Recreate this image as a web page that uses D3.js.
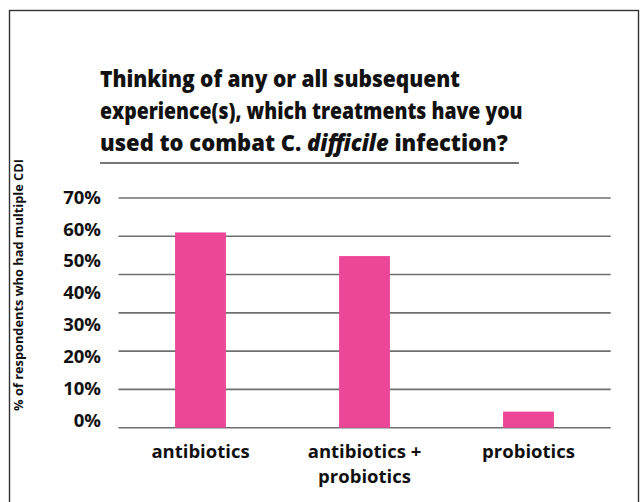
<!doctype html>
<html>

<head>
  <script src="https://cdnjs.cloudflare.com/ajax/libs/d3/7.8.5/d3.min.js"></script>
  <style>
    body { margin: 0; background: #fff; }
    text { font-family: "Open Sans", "Noto Sans", sans-serif; font-weight: bold; fill: #111; }
  </style>
</head>

<body>
  <div id="viz"></div>
  <script>
    // chart values
    var categories = ["antibiotics", "antibiotics + probiotics", "probiotics"];
    var categoryLines = [["antibiotics"], ["antibiotics +", "probiotics"], ["probiotics"]];
    var values = [59.5, 52.3, 4.9];
    var tickValues = [0, 10, 20, 30, 40, 50, 60, 70];
    var gridSteps = [0, 1, 2, 3, 4, 5, 6];
    var titleLines = [
      [{ t: "Thinking of any or all subsequent" }],
      [{ t: "experience(s), which treatments have you" }],
      [{ t: "used to combat C. " }, { t: "difficile", i: true }, { t: " infection?" }]
    ];
    var yTitle = "% of respondents who had multiple CDI";

    var W = 644, H = 502;
    var svg = d3.select("#viz").append("svg")
      .attr("width", W).attr("height", H);

    // frame, bottom edge runs off the picture
    svg.append("rect")
      .attr("x", 9.5).attr("y", 10.5)
      .attr("width", 629).attr("height", 520)
      .attr("fill", "none").attr("stroke", "#333").attr("stroke-width", 1.4);

    // title, squeezed sideways to the narrow face of the original
    var lineWidths = [360, 423, 408];
    titleLines.forEach(function(line, li) {
      var t = svg.append("text")
        .attr("x", 0).attr("y", 0)
        .style("font-size", "23px")
        .style("font-weight", 800);
      line.forEach(function(seg) {
        var ts = t.append("tspan").text(seg.t);
        if (seg.i) ts.style("font-style", "italic");
      });
      var sx = lineWidths[li] / t.node().getComputedTextLength();
      t.attr("transform", "translate(100," + (87 + li * 32) + ") scale(" + sx + ",1)");
    });
    svg.append("line")
      .attr("x1", 100).attr("x2", 519)
      .attr("y1", 163).attr("y2", 163)
      .attr("stroke", "#777").attr("stroke-width", 2);

    var x = d3.scaleBand()
      .domain(categories)
      .range([118.5, 610.5])
      .paddingInner(0.69)
      .paddingOuter(0.345);

    var y = d3.scaleLinear().domain([0, 70]).range([427.7, 198]);
    var yLab = d3.scaleLinear().domain([0, 70]).range([420, 197]);
    var yGrid = d3.scaleLinear().domain([0, 6]).range([427.7, 198]);

    // gridlines
    svg.append("g")
      .selectAll("line")
      .data(gridSteps)
      .enter()
      .append("line")
      .attr("x1", 118.5).attr("x2", 610.7)
      .attr("y1", d => yGrid(d)).attr("y2", d => yGrid(d))
      .attr("stroke", "#6f6f6f").attr("stroke-width", 1.6);

    // tick labels
    svg.append("g")
      .selectAll("text")
      .data(tickValues)
      .enter()
      .append("text")
      .attr("x", 101)
      .attr("y", d => yLab(d))
      .attr("dy", "0.36em")
      .attr("text-anchor", "end")
      .style("font-size", "18.5px")
      .text(d => d + "%");

    // bars
    svg.append("g")
      .selectAll("rect")
      .data(values)
      .enter()
      .append("rect")
      .attr("x", (d, i) => x(categories[i]))
      .attr("width", x.bandwidth())
      .attr("y", d => y(d))
      .attr("height", d => y(0) - y(d))
      .attr("fill", "#eb4697");

    // category labels
    var cat = svg.append("g")
      .selectAll("text")
      .data(categoryLines)
      .enter()
      .append("text")
      .attr("text-anchor", "middle")
      .style("font-size", "18.5px");
    cat.selectAll("tspan")
      .data(function(d, i) { return d.map(s => ({ s: s, c: categories[i] })); })
      .enter()
      .append("tspan")
      .attr("x", d => x(d.c) + x.bandwidth() / 2)
      .attr("y", (d, j) => 458 + j * 25)
      .text(d => d.s);

    // y axis title
    svg.append("text")
      .attr("transform", "translate(23,285) rotate(-90)")
      .attr("text-anchor", "middle")
      .style("font-size", "12.8px")
      .text(yTitle);
  </script>
</body>

</html>
